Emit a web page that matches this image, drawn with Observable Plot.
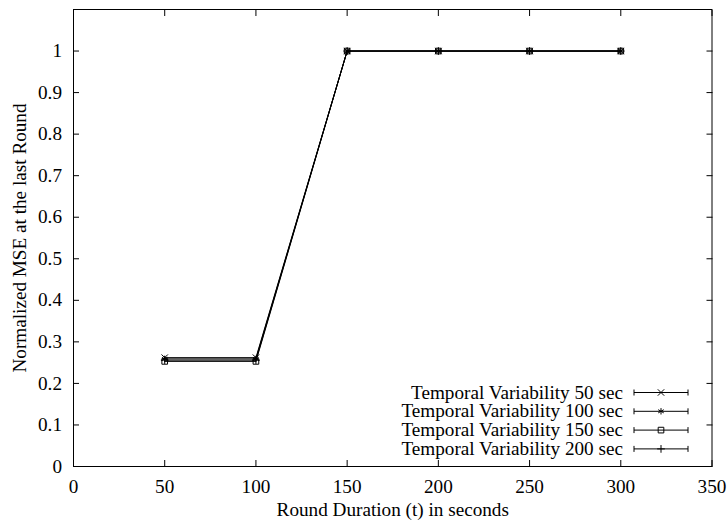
<!DOCTYPE html>
<html><head><meta charset="utf-8">
<script src="https://cdn.jsdelivr.net/npm/d3@7"></script>
<script src="https://cdn.jsdelivr.net/npm/@observablehq/plot@0.6"></script>
<style>body{margin:0;background:#fff}</style>
</head><body><div id="chart"></div>
<script>
const roundDurations = [50, 100, 150, 200, 250, 300];
const tv50 = [0.262, 0.262, 1, 1, 1, 1];
const tv100 = [0.259, 0.259, 1, 1, 1, 1];
const tv150 = [0.253, 0.253, 1, 1, 1, 1];
const tv200 = [0.256, 0.256, 1, 1, 1, 1];
const seriesNames = ["Temporal Variability 50 sec", "Temporal Variability 100 sec", "Temporal Variability 150 sec", "Temporal Variability 200 sec"];
const seriesSymbols = ["times", "asterisk", "square2", "plus"];
const xTicks = [0, 50, 100, 150, 200, 250, 300, 350];
const yTicks = [0, 0.1, 0.2, 0.3, 0.4, 0.5, 0.6, 0.7, 0.8, 0.9, 1];
const yTickLabels = ["0", "0.1", "0.2", "0.3", "0.4", "0.5", "0.6", "0.7", "0.8", "0.9", "1"];
const xLabel = "Round Duration (t) in seconds";
const yLabel = "Normalized MSE at the last Round";

const seriesValues = [tv50, tv100, tv150, tv200];
const series = seriesNames.map((name, k) => ({name, symbol: seriesSymbols[k], values: seriesValues[k]}));
const rows = series.flatMap(s => roundDurations.map((x, i) => ({series: s.name, x, y: s.values[i]})));

const font = "'Liberation Serif', 'Times New Roman', Times, serif";
const fs = "19.2px";
const symR = {times: 3, asterisk: 3, square2: 3.6, plus: 2.6};

const plot = Plot.plot({
  width: 728, height: 522,
  marginLeft: 73, marginRight: 16.5, marginTop: 9, marginBottom: 56,
  style: {fontFamily: font, fontSize: fs, color: "#000", background: "#fff"},
  x: {domain: [0, 350], label: null},
  y: {domain: [0, 1.1], label: null},
  marks: [
    Plot.axisX(xTicks, {anchor: "bottom", tickSize: 0, tickPadding: 13, label: null, tickFormat: d => String(d)}),
    Plot.axisX(xTicks, {anchor: "bottom", tickSize: 6, dy: -6, text: null, label: null}),
    Plot.axisX(xTicks, {anchor: "top", tickSize: 6, dy: 6, text: null, label: null}),
    Plot.axisY(yTicks, {anchor: "left", tickSize: 0, tickPadding: 11.5, label: null, tickFormat: (d, i) => yTickLabels[i]}),
    Plot.axisY(yTicks, {anchor: "left", tickSize: 6, dx: 6, text: null, label: null}),
    Plot.axisY(yTicks, {anchor: "right", tickSize: 6, dx: -6, text: null, label: null}),
    Plot.frame({stroke: "#000", strokeWidth: 1}),
    Plot.line(rows, {x: "x", y: "y", z: "series", stroke: "#000", strokeWidth: 1}),
    ...series.map(s => Plot.dot(rows.filter(r => r.series === s.name), {x: "x", y: "y", symbol: s.symbol, r: symR[s.symbol], stroke: "#000", fill: "none", strokeWidth: 1})),
    Plot.text([xLabel], {text: d => d, frameAnchor: "bottom", textAnchor: "middle", dy: 49, lineAnchor: "bottom"}),
    Plot.text([yLabel], {text: d => d, frameAnchor: "left", textAnchor: "middle", dx: -48, rotate: -90, lineAnchor: "bottom"})
  ]
});

// Key, in the lower right corner of the frame (gnuplot style)
const svg = d3.select(plot);
const key = svg.append("g").attr("font-family", font).attr("font-size", fs);
const rowY = [392.5, 411.3, 430.1, 448.9];
series.forEach((s, k) => {
  const y = rowY[k];
  key.append("text").attr("x", 623).attr("y", y).attr("dy", "0.32em").attr("text-anchor", "end").attr("fill", "#000").text(s.name);
  const g = key.append("g").attr("stroke", "#000").attr("fill", "none").attr("stroke-width", 1);
  g.append("line").attr("x1", 634).attr("x2", 688).attr("y1", y).attr("y2", y);
  g.append("line").attr("x1", 634).attr("x2", 634).attr("y1", y - 3).attr("y2", y + 3);
  g.append("line").attr("x1", 688).attr("x2", 688).attr("y1", y - 3).attr("y2", y + 3);
  const r = symR[s.symbol];
  const sym = {times: d3.symbolTimes, asterisk: d3.symbolAsterisk, square2: d3.symbolSquare2, plus: d3.symbolPlus}[s.symbol];
  g.append("path").attr("transform", `translate(661,${y})`).attr("d", d3.symbol(sym, Math.PI * r * r)());
});

document.getElementById("chart").appendChild(plot);
</script>
</body></html>
